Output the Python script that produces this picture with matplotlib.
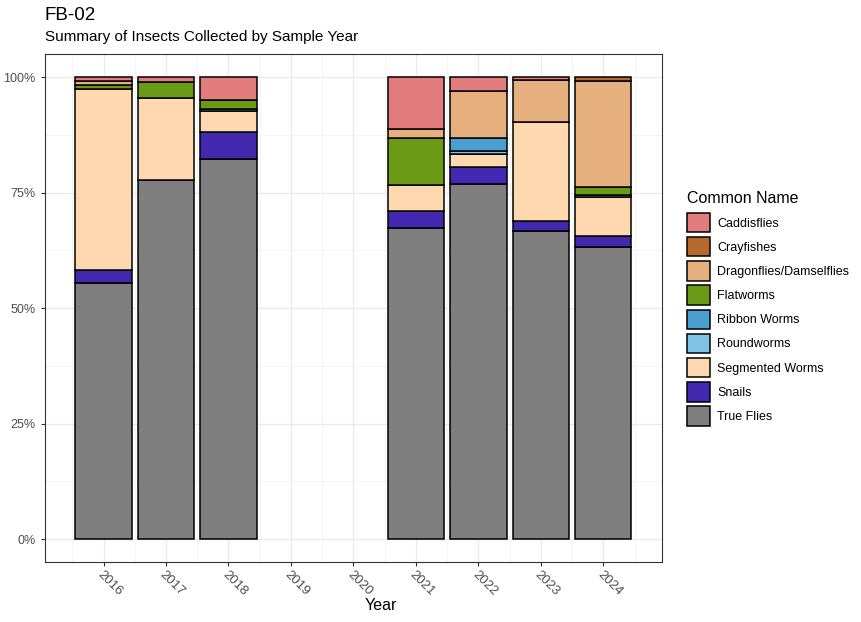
import numpy as np
import matplotlib.pyplot as plt
import matplotlib.patches as mpatches
from matplotlib.ticker import MultipleLocator, PercentFormatter

plt.rcParams["font.family"] = ["Liberation Sans", "DejaVu Sans"]

# Percent of each group by sample year
years = [2016, 2017, 2018, 2021, 2022, 2023, 2024]
all_years = list(range(2016, 2025))

groups = ["Caddisflies", "Crayfishes", "Dragonflies/Damselflies", "Flatworms",
          "Ribbon Worms", "Roundworms", "Segmented Worms", "Snails", "True Flies"]
colors = ["#E37D7D", "#B5692B", "#E5B07E", "#6B9A17",
          "#4B9FCE", "#7EC3E6", "#FFD8B0", "#4329B0", "#7F7F7F"]

caddisflies = [0.8, 1.1, 5.0, 11.3, 2.9, 0.6, 0.0]
crayfishes = [0.0, 0.0, 0.0, 0.0, 0.0, 0.0, 0.8]
dragonflies = [0.8, 0.0, 0.0, 1.8, 10.2, 9.2, 23.0]
flatworms = [0.9, 3.4, 1.8, 10.3, 0.0, 0.0, 1.6]
ribbon_worms = [0.0, 0.0, 0.0, 0.0, 2.8, 0.0, 0.0]
roundworms = [0.0, 0.0, 0.6, 0.0, 0.8, 0.0, 0.5]
segmented_worms = [39.3, 17.8, 4.4, 5.5, 2.7, 21.4, 8.4]
snails = [2.8, 0.0, 5.9, 3.8, 3.8, 2.1, 2.4]
true_flies = [55.4, 77.7, 82.3, 67.3, 76.8, 66.7, 63.3]

values = [caddisflies, crayfishes, dragonflies, flatworms, ribbon_worms,
          roundworms, segmented_worms, snails, true_flies]

data = np.array(values, dtype=float)
data = data / data.sum(axis=0)

fig = plt.figure(figsize=(8.61, 6.22), dpi=100)
ax = fig.add_axes([0.052, 0.096, 0.717, 0.817])

# stack from the bottom: True Flies first, Caddisflies on top
bottom = np.zeros(len(years))
for i in range(len(groups) - 1, -1, -1):
    h = data[i]
    keep = h > 0
    ax.bar(np.array(years)[keep], h[keep], bottom=bottom[keep], width=0.9,
           color=colors[i], edgecolor="black", linewidth=1.1, zorder=3)
    bottom += h

ax.set_xlim(2015.06, 2024.94)
ax.set_ylim(-0.05, 1.05)
ax.set_xticks(all_years)
ax.set_xticklabels([str(y) for y in all_years], rotation=-45, ha="left",
                   va="top", rotation_mode="anchor")
ax.xaxis.set_minor_locator(MultipleLocator(0.5))
ax.yaxis.set_major_locator(MultipleLocator(0.25))
ax.yaxis.set_minor_locator(MultipleLocator(0.125))
ax.yaxis.set_major_formatter(PercentFormatter(1.0, decimals=0))

ax.grid(which="major", color="#EBEBEB", linewidth=1.0, zorder=0)
ax.grid(which="minor", color="#F2F2F2", linewidth=0.6, zorder=0)
ax.set_axisbelow(True)
for s in ax.spines.values():
    s.set_color("#333333")
    s.set_linewidth(0.8)
ax.tick_params(which="major", length=3, color="#333333", labelsize=9,
               labelcolor="#4D4D4D")
ax.tick_params(axis="x", labelsize=9.5, pad=1.5)
ax.tick_params(which="minor", length=0)

fig.text(0.442, 0.027, "Year", fontsize=11.5, ha="center", va="center")
fig.text(0.052, 0.975, "FB-02", fontsize=13.5, ha="left", va="center")
fig.text(0.052, 0.940, "Summary of Insects Collected by Sample Year",
         fontsize=11, ha="left", va="center")

handles = [mpatches.Patch(facecolor=c, edgecolor="black", linewidth=1.1, label=g)
           for g, c in zip(groups, colors)]
leg = fig.legend(handles=handles, title="Common Name", loc="upper left",
                 bbox_to_anchor=(0.792, 0.701), frameon=False, fontsize=9,
                 title_fontsize=11.5, handlelength=1.85, handleheight=2.0,
                 labelspacing=0.39, handletextpad=0.55, borderaxespad=0)
leg._legend_box.align = "left"
leg._legend_box.sep = 5

fig.savefig("out.png", dpi=100)
